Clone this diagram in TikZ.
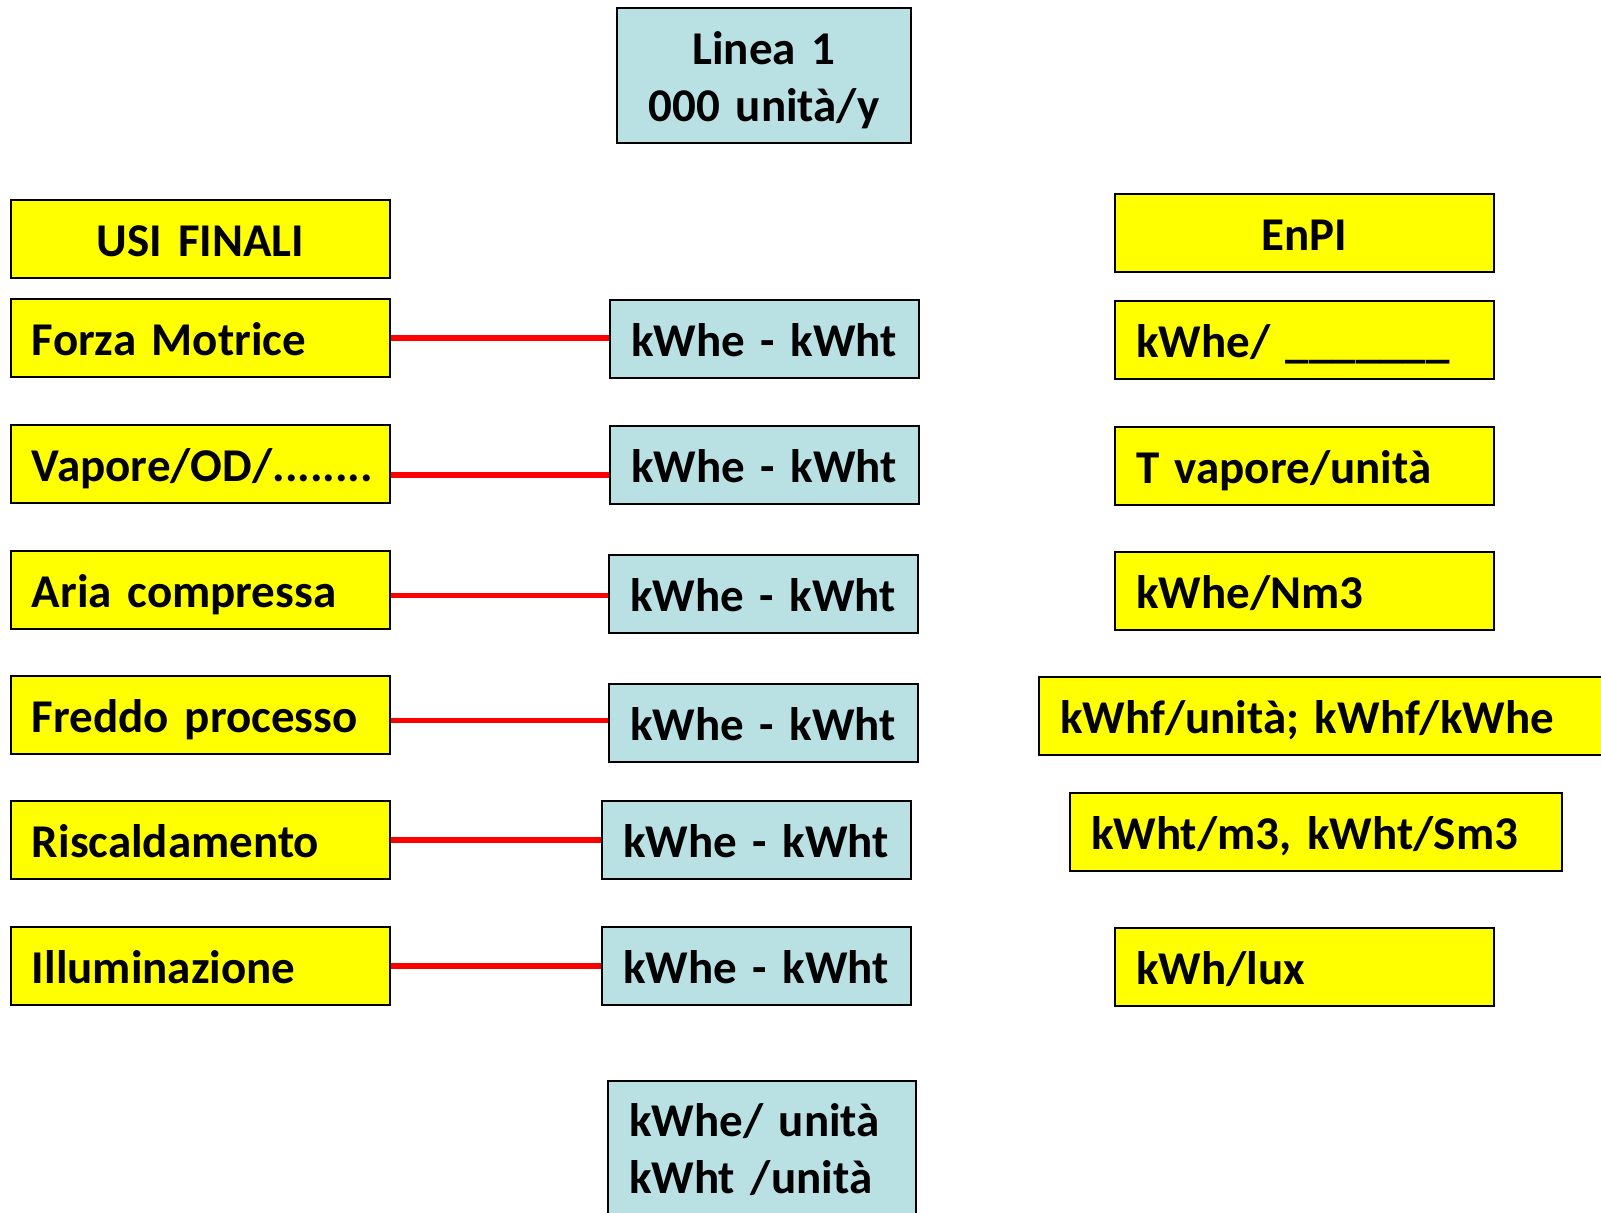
\documentclass[tikz,border=0pt]{standalone}
\usepackage{fontspec}
\setsansfont{Carlito}[WordSpace=0.85]
\usepackage{tikz}
\usetikzlibrary{positioning, calc}
\definecolor{useYellow}{HTML}{FFFF00}
\definecolor{unitBlue} {HTML}{B9E0E3}
\definecolor{linkRed}  {HTML}{FF0000}
\newcommand\enpifont{\sffamily\bfseries\fontsize{23.5pt}{28.7pt}\selectfont}
\tikzset{
  cell/.style={draw=black, line width=1pt, anchor=north west, inner xsep=10.5pt,
    inner ysep=0pt, minimum height=39pt, text height=21.2pt, text depth=3.7pt,
    font=\enpifont, align=left},
  usebox/.style={cell, fill=useYellow, text width=168.5pt},
  unitbox/.style={cell, fill=unitBlue, text width=133.5pt},
  link/.style={draw=linkRed, line width=2.6pt},
}
\begin{document}
\begin{tikzpicture}[x=0.5pt, y=-0.5pt]
  \path[use as bounding box, clip] (0,0) rectangle (1601,1212);
  % production line and specific consumption
  \node[unitbox, text width=126pt, align=center, minimum height=67.5pt, text depth=32.4pt]
    (line) at (616,7) {Linea 1\\000 unità/y};
  \node[unitbox, text width=133pt, inner ysep=6.3pt, text depth=80pt]
    (spec) at (607,1080) {kWhe/ unità\\kWht /unità};
  % end uses
  \node[usebox, align=center] (u0) at (10,199) {USI FINALI};
  \foreach \i/\t/\y in {1/{Forza Motrice}/298, 2/{Vapore/OD/........}/424,
      3/{Aria compressa}/550, 4/{Freddo processo}/675,
      5/{Riscaldamento}/800, 6/{Illuminazione}/926}{
    \node[usebox] (u\i) at (10,\y) {\t};
  }
  % energy carriers
  \foreach \i/\x/\y in {1/609/299, 2/609/425, 3/608/554, 4/608/683, 5/601/800, 6/601/926}{
    \node[unitbox] (b\i) at (\x,\y) {kWhe - kWht};
  }
  % indicators
  \node[usebox, align=center] (e0) at (1114,193) {EnPI};
  \node[usebox] (e1) at (1114,300) {kWhe/ \_\_\_\_\_\_\_};
  \node[usebox] (e2) at (1114,426) {T vapore/unità};
  \node[usebox] (e3) at (1114,551) {kWhe/Nm3};
  \node[usebox, text width=279pt] (e4) at (1038,676) {kWhf/unità; kWhf/kWhe};
  \node[usebox, text width=225pt] (e5) at (1069,792) {kWht/m3, kWht/Sm3};
  \node[usebox] (e6) at (1114,927) {kWh/lux};
  % links
  \foreach \i/\dy in {1/0, 2/11, 3/5.5, 4/5.5, 5/0, 6/0}{
    \draw[link] ($(u\i.east)+(0,\dy)$) -- ($(u\i.east -| b\i.west)+(0,\dy)$);
  }
\end{tikzpicture}
\end{document}
